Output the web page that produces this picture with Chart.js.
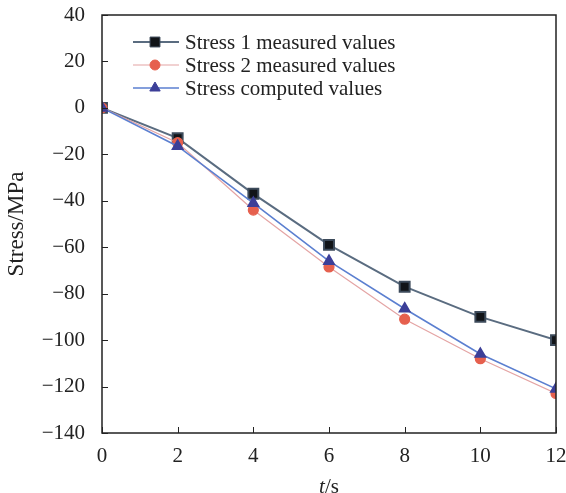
<!DOCTYPE html>
<html>
<head>
<meta charset="utf-8">
<script src="https://cdn.jsdelivr.net/npm/chart.js@4.4.1/dist/chart.umd.min.js"></script>
<style>
  html, body { margin: 0; padding: 0; background: #fff; }
  #wrap { width: 566px; height: 493px; position: relative; }
</style>
</head>
<body>
<div id="wrap"><canvas id="stressChart"></canvas></div>
<script>
//time values (s)
var times = [0, 2, 4, 6, 8, 10, 12];
//series (MPa)
var stress1Measured = [0, -13, -37, -59, -77, -90, -100];
var stress2Measured = [0, -15, -44, -68.5, -91, -108, -123];
var stressComputed = [0, -16.5, -41, -66, -86.5, -106, -121];
//labels
var seriesNames = ['Stress 1 measured values', 'Stress 2 measured values', 'Stress computed values'];
var yTitle = 'Stress/MPa';

var serif = "'Liberation Serif', 'Times New Roman', serif";

//turn a series into {x,y} points
function toPoints(values) {
  var pts = [];
  for (var i = 0; i < times.length; i++) {
    pts.push({ x: times[i], y: values[i] });
  }
  return pts;
}

//use the real minus sign like the original
function fmt(v) {
  return String(v).replace('-', '\u2212');
}

//no extra room for overhanging labels, the layout padding decides
function noScalePadding(scale) {
  scale.paddingTop = 0;
  scale.paddingBottom = 0;
  scale.paddingLeft = 0;
  scale.paddingRight = 0;
}

//box, inward ticks, legend with line + marker, and the t/s title
const extrasPlugin = {
  id: 'extras',
  afterDraw(chart) {
    const ctx = chart.ctx;
    const a = chart.chartArea;
    const xs = chart.scales.x;
    const ys = chart.scales.y;
    ctx.save();
    ctx.strokeStyle = '#222';
    ctx.lineWidth = 1.5;
    ctx.strokeRect(a.left, a.top, a.right - a.left, a.bottom - a.top);
    ctx.lineWidth = 1;
    ctx.beginPath();
    xs.ticks.forEach((t) => {
      const px = Math.round(xs.getPixelForValue(t.value)) + 0.5;
      ctx.moveTo(px, a.bottom);
      ctx.lineTo(px, a.bottom - 6);
    });
    ys.ticks.forEach((t) => {
      const py = Math.round(ys.getPixelForValue(t.value)) + 0.5;
      ctx.moveTo(a.left, py);
      ctx.lineTo(a.left + 6, py);
    });
    ctx.stroke();

    //legend
    ctx.font = '21px ' + serif;
    ctx.textBaseline = 'middle';
    ctx.textAlign = 'left';
    chart.data.datasets.forEach((ds, i) => {
      const y = 42 + i * 23;
      ctx.strokeStyle = ds.borderColor;
      ctx.lineWidth = ds.borderWidth;
      ctx.beginPath();
      ctx.moveTo(133, y);
      ctx.lineTo(179, y);
      ctx.stroke();
      ctx.fillStyle = ds.pointBackgroundColor;
      ctx.strokeStyle = ds.pointBorderColor;
      ctx.lineWidth = 1;
      Chart.helpers.drawPoint(ctx, { pointStyle: ds.pointStyle, radius: ds.pointRadius, rotation: 0, borderWidth: 1 }, 155, y);
      ctx.fillStyle = '#222';
      ctx.fillText(ds.label, 185, y + 1);
    });

    //x title with italic t
    ctx.fillStyle = '#222';
    ctx.textBaseline = 'middle';
    ctx.font = 'italic 21px ' + serif;
    const tw = ctx.measureText('t').width;
    ctx.font = '21px ' + serif;
    const sw = ctx.measureText('/s').width;
    const cx = (a.left + a.right) / 2;
    const startX = cx - (tw + sw) / 2;
    ctx.font = 'italic 21px ' + serif;
    ctx.fillText('t', startX, 487);
    ctx.font = '21px ' + serif;
    ctx.fillText('/s', startX + tw, 487);
    ctx.restore();
  }
};

const data = {
  datasets: [{
    label: seriesNames[0],
    data: toPoints(stress1Measured),
    borderColor: '#5a6c80',
    borderWidth: 2,
    pointStyle: 'rect',
    pointRadius: 7,
    pointBackgroundColor: '#111418',
    pointBorderColor: '#3c4a5a',
    order: 3
  }, {
    label: seriesNames[1],
    data: toPoints(stress2Measured),
    borderColor: '#e4a4a4',
    borderWidth: 1.2,
    pointStyle: 'circle',
    pointRadius: 5,
    pointBackgroundColor: '#e6604e',
    pointBorderColor: '#e6604e',
    order: 2
  }, {
    label: seriesNames[2],
    data: toPoints(stressComputed),
    borderColor: '#5b7fd0',
    borderWidth: 1.6,
    pointStyle: 'triangle',
    pointRadius: 6,
    pointBackgroundColor: '#3c3f98',
    pointBorderColor: '#3c3f98',
    order: 1
  }]
};

const config = {
  type: 'line',
  data: data,
  plugins: [extrasPlugin],
  options: {
    responsive: false,
    animation: false,
    events: [],
    layout: { padding: { top: 15, right: 10, bottom: 0, left: 0 } },
    plugins: {
      legend: { display: false },
      tooltip: { enabled: false }
    },
    scales: {
      x: {
        type: 'linear',
        min: 0,
        max: 12,
        afterFit: (scale) => { scale.height = 60; noScalePadding(scale); },
        grid: { display: false, drawTicks: false },
        border: { display: false },
        ticks: {
          stepSize: 2,
          padding: 11,
          color: '#222',
          font: { family: serif, size: 21 },
          callback: (v) => fmt(v)
        }
      },
      y: {
        min: -140,
        max: 40,
        afterFit: (scale) => { scale.width = 102; noScalePadding(scale); },
        grid: { display: false, drawTicks: false },
        border: { display: false },
        title: {
          display: true,
          text: yTitle,
          color: '#222',
          font: { family: serif, size: 23 },
          padding: { top: 3, bottom: 0 }
        },
        ticks: {
          stepSize: 20,
          padding: 17,
          color: '#222',
          font: { family: serif, size: 21 },
          callback: (v) => fmt(v)
        }
      }
    }
  }
};

var canvas = document.getElementById('stressChart');
canvas.width = 566;
canvas.height = 493;
var stressChart = new Chart(canvas, config);
</script>
</body>
</html>
